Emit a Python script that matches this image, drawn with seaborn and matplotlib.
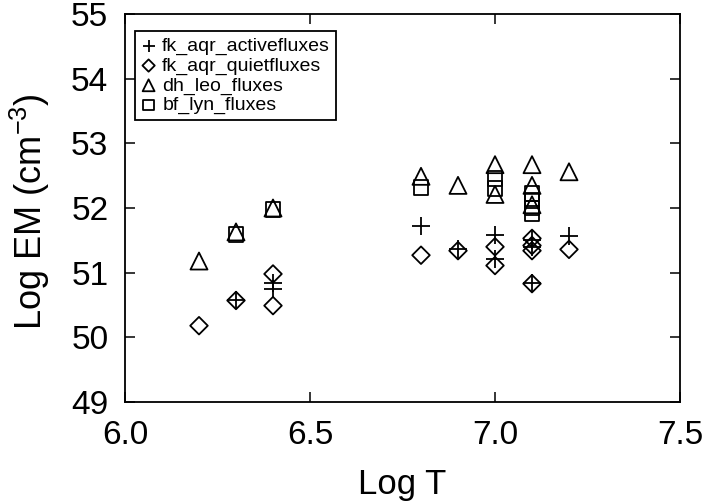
import matplotlib
matplotlib.use("Agg")
import matplotlib.pyplot as plt
import seaborn as sns
import numpy as np

# --- data ---
active_T  = [6.3, 6.4, 6.4, 6.8, 6.9, 7.0, 7.0, 7.1, 7.1, 7.1, 7.2]
active_EM = [50.58, 50.84, 50.75, 51.72, 51.36, 51.58, 51.21, 51.50, 51.40, 50.84, 51.57]

quiet_T  = [6.2, 6.3, 6.4, 6.4, 6.8, 6.9, 7.0, 7.0, 7.1, 7.1, 7.1, 7.1, 7.2]
quiet_EM = [50.18, 50.57, 50.98, 50.49, 51.27, 51.34, 51.40, 51.11, 51.53, 51.42, 51.34, 50.83, 51.36]

leo_T  = [6.2, 6.3, 6.4, 6.8, 6.9, 7.0, 7.0, 7.1, 7.1, 7.1, 7.2]
leo_EM = [51.18, 51.63, 52.00, 52.49, 52.35, 52.67, 52.21, 52.67, 52.35, 52.05, 52.56]

lyn_T  = [6.3, 6.4, 6.8, 7.0, 7.0, 7.1, 7.1, 7.1, 7.1]
lyn_EM = [51.59, 51.98, 52.32, 52.45, 52.30, 52.22, 52.12, 52.00, 51.92]

labels = ["fk_aqr_activefluxes", "fk_aqr_quietfluxes", "dh_leo_fluxes", "bf_lyn_fluxes"]
x_ticks = [6.0, 6.5, 7.0, 7.5]
y_ticks = [49, 50, 51, 52, 53, 54, 55]

sns.set_style("white")
plt.rcParams["font.family"] = ["Liberation Sans", "DejaVu Sans"]
plt.rcParams["mathtext.fontset"] = "custom"
plt.rcParams["mathtext.rm"] = "Liberation Sans"
plt.rcParams["mathtext.it"] = "Liberation Sans"

fig = plt.figure(figsize=(7.07, 5.03), dpi=100)
ax = fig.add_axes([125/707, 1-402/503, 555/707, 388/503])

lw = 1.3
sns.scatterplot(x=active_T, y=active_EM, marker="+", s=150, color="black",
                linewidth=lw, ax=ax, label=labels[0])
sns.scatterplot(x=quiet_T, y=quiet_EM, marker="D", s=80, facecolor="none",
                edgecolor="black", linewidth=lw, ax=ax, label=labels[1])
sns.scatterplot(x=leo_T, y=leo_EM, marker="^", s=150, facecolor="none",
                edgecolor="black", linewidth=lw, ax=ax, label=labels[2])
sns.scatterplot(x=lyn_T, y=lyn_EM, marker="s", s=115, facecolor="none",
                edgecolor="black", linewidth=lw, ax=ax, label=labels[3])

ax.set_xlim(6.0, 7.5)
ax.set_ylim(49, 55)
ax.set_xticks(x_ticks)
ax.set_xticklabels([f"{v:.1f}" for v in x_ticks])
ax.set_yticks(y_ticks)
ax.set_yticklabels([str(v) for v in y_ticks])

for sp in ax.spines.values():
    sp.set_visible(True)
    sp.set_color("black")
    sp.set_linewidth(1.3)

ax.tick_params(axis="both", which="major", direction="in", length=7, width=1.1,
               top=True, right=True, bottom=True, left=True,
               labelsize=24, colors="black")
ax.tick_params(axis="x", pad=13)
ax.tick_params(axis="y", pad=12)

ax.set_xlabel("Log T", fontsize=25, color="black", labelpad=12)
ax.set_ylabel("Log EM (cm$^{-3}$)", fontsize=26, color="black")
ax.yaxis.set_label_coords(-0.172, 0.49)
ax.yaxis.label.set_va("center")

leg = ax.legend(loc="upper left", bbox_to_anchor=(0.018, 0.955), borderaxespad=0,
                fontsize=14, frameon=True, fancybox=False, edgecolor="black",
                framealpha=1, handlelength=0.8, handletextpad=0.3,
                labelspacing=0.1, borderpad=0.3, markerscale=0.7)
leg.get_frame().set_linewidth(1.3)
for t in leg.get_texts():
    t.set_color("black")

fig.savefig("out.png", dpi=100)
